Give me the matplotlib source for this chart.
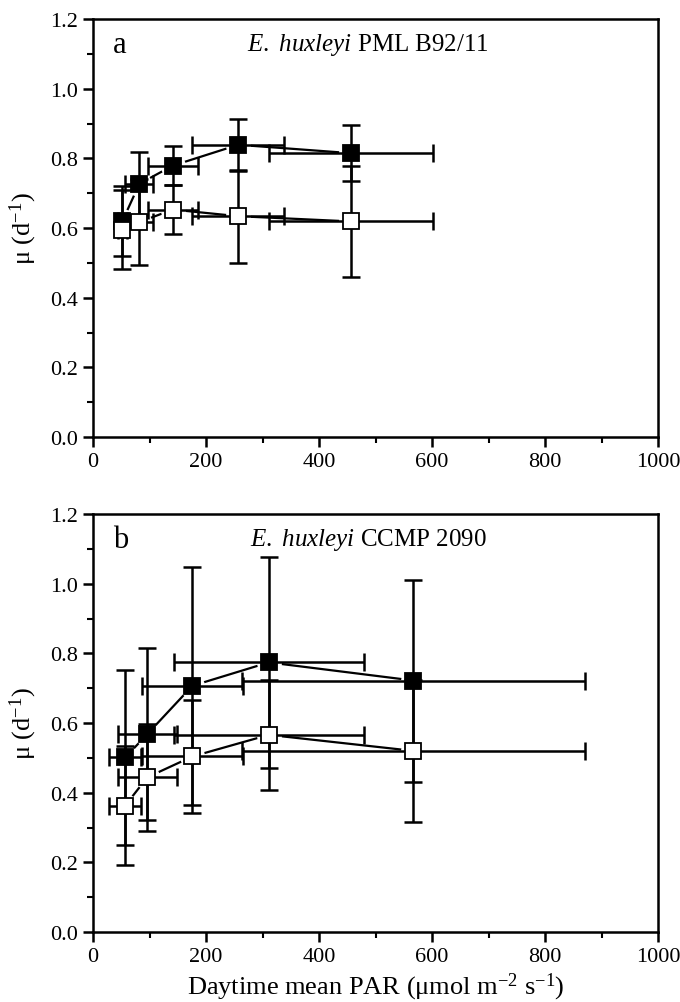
import matplotlib
matplotlib.use('Agg')
import matplotlib.pyplot as plt
from matplotlib.ticker import MultipleLocator

# === DADOS ===
# painel a: E. huxleyi PML B92/11
par_a = [52, 82, 141, 257, 456]
par_a_err = [8, 25, 44, 81, 145]
mu_a_cheio = [0.620, 0.727, 0.779, 0.839, 0.815]
mu_a_cheio_err = [0.100, 0.090, 0.056, 0.075, 0.080]
mu_a_vazio = [0.595, 0.617, 0.653, 0.634, 0.619]
mu_a_vazio_err = [0.113, 0.123, 0.070, 0.134, 0.160]

# painel b: E. huxleyi CCMP 2090
par_b = [57, 96, 176, 311, 567]
par_b_err = [28, 52, 90, 168, 303]
mu_b_cheio = [0.501, 0.568, 0.707, 0.774, 0.722]
mu_b_cheio_err = [0.252, 0.246, 0.342, 0.302, 0.290]
mu_b_vazio = [0.363, 0.444, 0.504, 0.566, 0.520]
mu_b_vazio_err = [0.172, 0.153, 0.162, 0.158, 0.203]

plt.rcParams['font.family'] = ['Liberation Serif', 'DejaVu Serif']
plt.rcParams['mathtext.fontset'] = 'custom'
plt.rcParams['mathtext.rm'] = 'Liberation Serif'
plt.rcParams['mathtext.it'] = 'Liberation Serif:italic'

fig = plt.figure(figsize=(6.8, 10.03), dpi=100)
ax_a = fig.add_axes([0.1368, 0.5633, 0.8309, 0.4167])
ax_b = fig.add_axes([0.1368, 0.0698, 0.8309, 0.4167])

paineis = [
    (ax_a, 'a', 'PML B92/11', par_a, par_a_err, mu_a_cheio, mu_a_cheio_err, mu_a_vazio, mu_a_vazio_err),
    (ax_b, 'b', 'CCMP 2090', par_b, par_b_err, mu_b_cheio, mu_b_cheio_err, mu_b_vazio, mu_b_vazio_err),
]

for ax, letra, cepa, x, xerr, yc, yc_err, yv, yv_err in paineis:
    # linhas de ligacao
    ax.plot(x, yc, color='black', lw=1.6, zorder=1)
    ax.plot(x, yv, color='black', lw=1.6, zorder=1)
    # "buraco" branco em volta dos marcadores (estilo Origin)
    ax.plot(x, yc, ls='none', marker='o', ms=18, mfc='white', mec='none', zorder=2)
    ax.plot(x, yv, ls='none', marker='o', ms=18, mfc='white', mec='none', zorder=2)
    # barras de erro
    for y, yerr in [(yc, yc_err), (yv, yv_err)]:
        ax.errorbar(x, y, xerr=xerr, yerr=yerr, fmt='none', ecolor='black',
                    elinewidth=1.8, capsize=6.5, capthick=1.8, zorder=3)
    # marcadores
    ax.plot(x, yc, ls='none', marker='s', ms=11, mfc='black', mec='black', mew=1.3, zorder=4)
    ax.plot(x, yv, ls='none', marker='s', ms=11, mfc='white', mec='black', mew=1.3, zorder=5)

    ax.set_xlim(0, 1000)
    ax.set_ylim(0, 1.2)
    ax.xaxis.set_major_locator(MultipleLocator(200))
    ax.xaxis.set_minor_locator(MultipleLocator(100))
    ax.yaxis.set_major_locator(MultipleLocator(0.2))
    ax.yaxis.set_minor_locator(MultipleLocator(0.1))
    ax.yaxis.set_major_formatter(plt.FormatStrFormatter('%.1f'))
    ax.tick_params(which='major', direction='out', length=7, width=1.8, labelsize=16)
    ax.tick_params(which='minor', direction='out', length=4, width=1.5)
    for s in ax.spines.values():
        s.set_linewidth(1.8)
    ax.set_ylabel(r'μ (d$^{-1}$)', fontsize=19, labelpad=8)

    ax.text(0.035, 0.94, letra, transform=ax.transAxes, fontsize=22, va='center', ha='left')
    ax.text(0.487, 0.94, r'$\mathit{E.}$ $\mathit{huxleyi}$ ' + cepa, transform=ax.transAxes,
            fontsize=18, va='center', ha='center')

ax_b.set_xlabel(r'Daytime mean PAR (μmol m$^{-2}$ s$^{-1}$)', fontsize=19, labelpad=4)

plt.savefig('out.png', dpi=100)
